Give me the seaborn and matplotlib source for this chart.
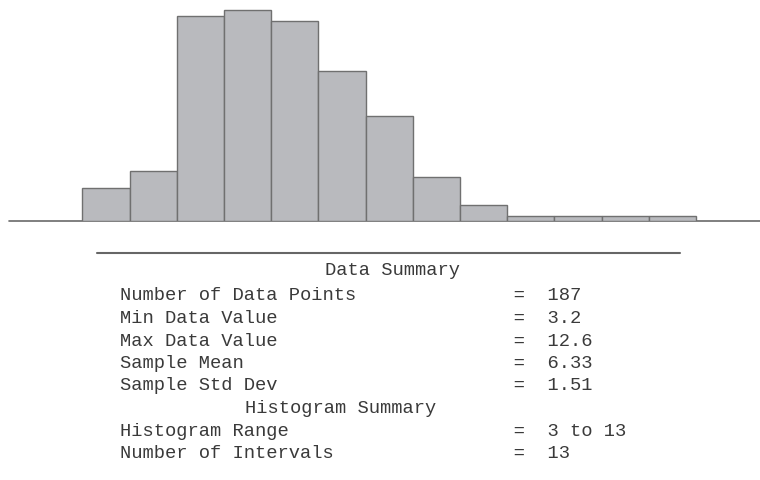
import numpy as np
import pandas as pd
import seaborn as sns
import matplotlib.pyplot as plt
from matplotlib.lines import Line2D

# Histogram counts for the 13 equal intervals spanning 3 to 13
range_lo, range_hi = 3, 13
counts = [6, 9, 37, 38, 36, 27, 19, 8, 3, 1, 1, 1, 1]

# Summary table
summary_labels = ["Number of Data Points", "Min Data Value", "Max Data Value",
                  "Sample Mean", "Sample Std Dev"]
summary_values = ["187", "3.2", "12.6", "6.33", "1.51"]
hist_labels = ["Histogram Range", "Number of Intervals"]
hist_values = ["3 to 13", "13"]

edges = np.linspace(range_lo, range_hi, len(counts) + 1)
centers = (edges[:-1] + edges[1:]) / 2
df = pd.DataFrame({"value": centers, "count": counts})

sns.set_style("white")
W, H, DPI = 760, 480, 100
fig = plt.figure(figsize=(W / DPI, H / DPI), dpi=DPI)

# histogram panel: baseline at y=221 px, bars spanning x=82..696 px
base_y = 221.3
ax = fig.add_axes([0, 1 - base_y / H, 1, base_y / H])
sns.histplot(data=df, x="value", weights="count", bins=edges.tolist(), ax=ax,
             color="#b9babe", edgecolor="#707070", linewidth=1.0, alpha=1.0)
px_per_unit = (696 - 82.3) / (range_hi - range_lo)
ax.set_xlim(range_lo - 82.3 / px_per_unit, range_hi + (W - 696) / px_per_unit)
ax.set_ylim(0, max(counts) * base_y / (base_y - 10))
ax.set_axis_off()
ax.axhline(0, xmin=9 / W, xmax=1, color="#6a6a6a", lw=1.2, clip_on=False, zorder=0)

# separator rule above the summary
fig.add_artist(Line2D([97 / W, 680 / W], [1 - 253 / H, 1 - 253 / H],
                      color="#666666", lw=1.5))

mono = dict(family="Liberation Mono", fontsize=13.5, color="#3a3a3a", va="baseline")

def fy(px):
    return 1 - px / H

fig.text(392 / W, fy(275), "Data Summary", ha="center", **mono)

x0 = 120 / W
pad = 35
row_y = [300.5, 323, 345.5, 368, 390.5]
for lab, val, y in zip(summary_labels, summary_values, row_y):
    fig.text(x0, fy(y), f"{lab:<{pad}}=  {val}", ha="left", **mono)

fig.text(341 / W, fy(413), "Histogram Summary", ha="center", **mono)
for lab, val, y in zip(hist_labels, hist_values, [435.5, 458]):
    fig.text(x0, fy(y), f"{lab:<{pad}}=  {val}", ha="left", **mono)

fig.savefig("out.png", dpi=DPI)
